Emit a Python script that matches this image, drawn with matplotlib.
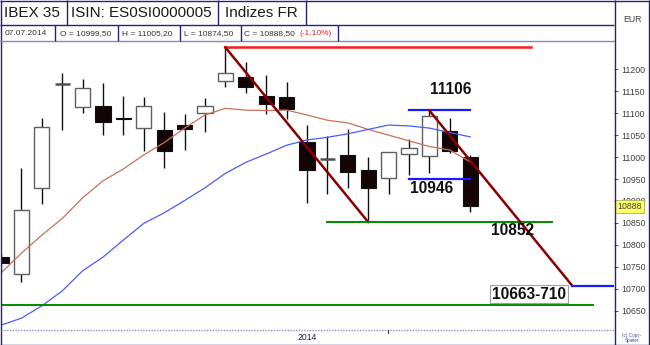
import matplotlib
matplotlib.use("Agg")
import matplotlib.pyplot as plt
from matplotlib.patches import Rectangle

plt.rcParams['font.family'] = ['Liberation Sans', 'DejaVu Sans']

# ---------------- data ----------------
opens  = [10773, 10734, 10929, 11166, 11115, 11116, 11090, 11067, 11062, 11073, 11100, 11174,
          11183, 11139, 11136, 11035, 10997, 11005, 10971, 10952, 11006, 11003, 11060, 10999.5]
highs  = [10780, 10974, 11088, 11191, 11178, 11169, 11140, 11136, 11103, 11098, 11134, 11250,
          11217, 11187, 11172, 11073, 11049, 11063, 11000, 11012, 11041, 11106, 11088, 11005.2]
lows   = [10750, 10715, 10892, 11062, 11100, 11050, 11050, 11014, 10976, 11016, 11058, 11160,
          11147, 11098, 11087, 10895, 10915, 10929, 10852, 10917, 10959, 10963, 11010, 10874.5]
closes = [10759, 10879, 11068, 11166, 11157, 11079, 11086, 11116, 11014, 11063, 11116, 11191,
          11159, 11121, 11109, 10971, 10995, 10965, 10929, 11011, 11020, 11094, 11014, 10888.5]
ma_red  = [10736, 10781, 10822, 10860, 10907, 10946, 10973, 11005, 11033, 11066, 11096, 11111,
           11107, 11106, 11107, 11096, 11084, 11078, 11063, 11050, 11037, 11024, 11016, 10989]
ma_blue = [10617, 10633, 10661, 10695, 10741, 10772, 10811, 10849, 10873, 10901, 10930, 10963,
           10988, 11007, 11027, 11039, 11045, 11053, 11063, 11073, 11071, 11066, 11056, 11046]
y_ticks = [10650, 10700, 10750, 10800, 10850, 10900, 10950, 11000, 11050, 11100, 11150, 11200]
last_price = 10888
level_top = 11250
level_10852 = 10852
level_11106 = 11108
level_10946 = 10950
level_target = 10707
level_10663 = 10663
header_row1 = ["IBEX 35", "ISIN: ES0SI0000005", "Indizes FR"]
header_row2 = ["07.07.2014", "O = 10999,50", "H = 11005,20", "L = 10874,50", "C = 10888,50"]
change_txt = "(-1.10%)"

W, H = 650, 345
fig = plt.figure(figsize=(6.5, 3.45), dpi=100)
fig.patch.set_facecolor('white')

# main axes in pixel rect x 1..614, y 41..330
L, R, T, B = 1, 614, 41, 330
ax = fig.add_axes([L / W, (H - B) / H, (R - L) / W, (B - T) / H])
ax.set_xlim(0, (R - L) / 20.4)
ax.set_ylim(10606, 11264.5)
for s in ax.spines.values():
    s.set_visible(False)
ax.set_xticks([])
ax.yaxis.tick_right()
ax.set_yticks(y_ticks)
ax.set_yticklabels([str(v) for v in y_ticks])
ax.tick_params(axis='y', which='both', length=3, width=0.6, color='#2a2a80',
               labelsize=6.3, labelcolor='#404040', pad=2)

navy = '#23237a'
bw = 0.74
for i, (o, h, l, c) in enumerate(zip(opens, highs, lows, closes)):
    ax.vlines(i, l, h, color='#101010', lw=1.0, zorder=3)
    if abs(c - o) < 4:
        ax.hlines((o + c) / 2, i - bw / 2, i + bw / 2, color='#505050', lw=1.8, zorder=4)
    elif c > o:
        ax.add_patch(Rectangle((i - bw / 2, o), bw, c - o, facecolor='white',
                               edgecolor='#606060', lw=1.0, zorder=4))
    else:
        ax.add_patch(Rectangle((i - bw / 2, c), bw, o - c, facecolor='#140505',
                               edgecolor='#101010', lw=0.8, zorder=4))

xs = list(range(len(closes)))
ax.plot(xs, ma_red, color='#c8705a', lw=0.9, zorder=5)
ax.plot(xs, ma_blue, color='#4a5cff', lw=0.9, zorder=5)

# annotations
ax.plot([11, 26.0], [level_top, level_top], color='#ff1a1a', lw=1.8, zorder=6)
ax.plot([11, 18], [level_top, level_10852], color='#8a0000', lw=1.8, zorder=6)
ax.plot([16, 27.0], [level_10852, level_10852], color='#008a00', lw=1.4, zorder=6)
ax.plot([0, 29.0], [level_10663, level_10663], color='#008a00', lw=1.4, zorder=6)
ax.plot([20, 23], [level_11106, level_11106], color='#1a1aff', lw=1.6, zorder=6)
ax.plot([20, 23], [level_10946, level_10946], color='#1a1aff', lw=1.6, zorder=6)
ax.plot([21, 28.0], [level_11106 - 2, level_target], color='#8a0000', lw=1.8, zorder=6)
ax.plot([28.0, 31], [level_target, level_target], color='#1a1aff', lw=1.6, zorder=6, clip_on=True)

tkw = dict(fontsize=11.2, fontweight='bold', color='#101010', ha='center', va='center', zorder=7)
ax.text(22.05, 11155, "11106", **tkw)
ax.text(21.1, 10928, "10946", **tkw)
ax.text(25.1, 10833, "10852", **tkw)
ax.text(25.9, 10688, "10663-710", bbox=dict(boxstyle='square,pad=0.12', fc='white',
                                              ec='#a0a0a0', lw=0.8), **tkw)

# current price label on right axis
ax.text(1.005, (last_price - 10606) / (11264.5 - 10606), str(last_price), transform=ax.transAxes,
        ha='left', va='center', fontsize=6.3, color='#404040', zorder=10, clip_on=False,
        bbox=dict(boxstyle='square,pad=0.25', fc='#ffff66', ec='#b0b060', lw=0.6))

# ---------------- overlay (pixel coords) ----------------
ov = fig.add_axes([0, 0, 1, 1], zorder=20)
ov.set_xlim(0, W)
ov.set_ylim(H, 0)
ov.axis('off')
ov.patch.set_alpha(0)

def hl(x0, x1, y, **kw):
    ov.plot([x0, x1], [y, y], **kw)

def vl(x, y0, y1, **kw):
    ov.plot([x, x], [y0, y1], **kw)

lk = dict(color=navy, lw=1.0, solid_capstyle='butt')
# outer frame
hl(0, W, 0.5, **lk)
hl(0, W, 344.5, **lk)
vl(0.7, 0, H, **lk)
vl(649.3, 0, H, **lk)
# header rows
hl(0, 614, 25, **lk)
hl(0, 614, 41, color='#8888c0', lw=1.0)
vl(614.5, 0, H, **lk)
for x in [66.7, 218, 306]:
    vl(x, 0, 25, **lk)
for x in [55, 117.7, 180, 240.7, 338.3]:
    vl(x, 25, 41, **lk)
# bottom dotted line
hl(1, 614, 329.5, color='#9090c0', lw=1.0, ls=(0, (1, 1)))
vl(388, 330, 333, color='#303060', lw=0.8)

# header texts
row1_x = [4, 71, 225]
for x, t in zip(row1_x, header_row1):
    ov.text(x, 13, t, fontsize=11, color='#1a1a1a', ha='left', va='center')
row2_x = [5, 60, 122, 184, 244]
for x, t in zip(row2_x, header_row2):
    ov.text(x, 33.3, t, fontsize=6.0, color='#333333', ha='left', va='center')
ov.text(300, 33.3, change_txt, fontsize=6.0, color='#dd2222', ha='left', va='center')
ov.text(632, 20, "EUR", fontsize=6.3, color='#404040', ha='center', va='center')
ov.text(307, 338, "2014", fontsize=6.2, color='#202060', ha='center', va='center')
ov.text(632, 335.3, "(c) Copy-", fontsize=3.3, color='#4050a0', ha='center', va='center')
ov.text(632, 340.5, "Spieler", fontsize=3.3, color='#4050a0', ha='center', va='center')

fig.savefig("out.png", dpi=100, facecolor='white')
